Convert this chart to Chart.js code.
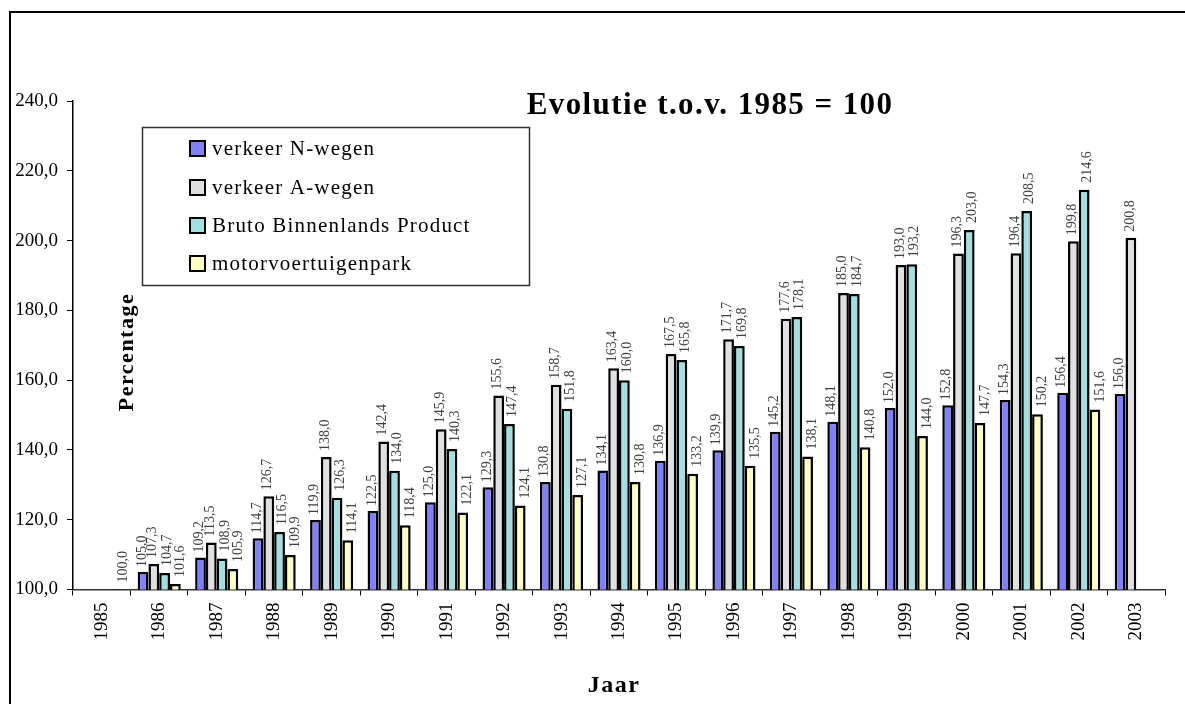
<!DOCTYPE html>
<html>
<head>
<meta charset="utf-8">
<script src="https://cdn.jsdelivr.net/npm/chart.js@4/dist/chart.umd.min.js"></script>
<style>
  body { margin: 0; background: #fff; }
  #wrap { width: 1185px; height: 704px; }
</style>
</head>
<body>
<div id="wrap"><canvas id="evolChart" width="1185" height="704"></canvas></div>
<script>
// categories (jaar)
const jaren = ['1985', '1986', '1987', '1988', '1989', '1990', '1991', '1992', '1993', '1994',
               '1995', '1996', '1997', '1998', '1999', '2000', '2001', '2002', '2003'];

// series values, index 1985 = 100
const verkeerN = [null, 105.0, 109.2, 114.7, 119.9, 122.5, 125.0, 129.3, 130.8, 134.1,
                  136.9, 139.9, 145.2, 148.1, 152.0, 152.8, 154.3, 156.4, 156.0];
const verkeerA = [null, 107.3, 113.5, 126.7, 138.0, 142.4, 145.9, 155.6, 158.7, 163.4,
                  167.5, 171.7, 177.6, 185.0, 193.0, 196.3, 196.4, 199.8, 200.8];
const bbp      = [null, 104.7, 108.9, 116.5, 126.3, 134.0, 140.3, 147.4, 151.8, 160.0,
                  165.8, 169.8, 178.1, 184.7, 193.2, 203.0, 208.5, 214.6, null];
const motorPark = [100.0, 101.6, 105.9, 109.9, 114.1, 118.4, 122.1, 124.1, 127.1, 130.8,
                   133.2, 135.5, 138.1, 140.8, 144.0, 147.7, 150.2, 151.6, null];

const seriesNames = ['verkeer N-wegen', 'verkeer A-wegen', 'Bruto Binnenlands Product', 'motorvoertuigenpark'];

// y axis: 100,0 .. 240,0 step 20
const yMin = 100, yMax = 240, yStep = 20;

const colors = ['#8080ff', '#e0e0e0', '#a0e0e0', '#ffffc0'];
const serif = '"Liberation Serif", "Times New Roman", serif';

function fmt(v) {
    return v.toFixed(1).replace('.', ',');
}

// frame, titles, legend and value labels
const decorPlugin = {
    id: 'decor',
    beforeDraw(chart) {
        const ctx = chart.ctx;
        ctx.save();
        ctx.fillStyle = '#fff';
        ctx.fillRect(0, 0, chart.width, chart.height);
        ctx.strokeStyle = '#000';
        ctx.lineWidth = 2;
        ctx.beginPath();
        ctx.moveTo(10, 710);
        ctx.lineTo(10, 12);
        ctx.lineTo(1190, 12);
        ctx.stroke();
        ctx.restore();
    },
    afterDatasetsDraw(chart) {
        const ctx = chart.ctx;
        const xShift = [-1, -1, 3, 5];
        const gap = [5, 6, 7, 7];
        ctx.save();
        ctx.font = '14px ' + serif;
        ctx.fillStyle = '#404040';
        ctx.textAlign = 'left';
        ctx.textBaseline = 'middle';
        chart.data.datasets.forEach((ds, di) => {
            const meta = chart.getDatasetMeta(di);
            meta.data.forEach((bar, i) => {
                const v = ds.data[i];
                if (v === null || v === undefined) return;
                ctx.save();
                ctx.translate(bar.x + xShift[di], bar.y - gap[di]);
                ctx.rotate(-Math.PI / 2);
                ctx.fillText(fmt(v), 0, 0);
                ctx.restore();
            });
        });
        ctx.restore();
    },
    afterDraw(chart) {
        const ctx = chart.ctx;
        ctx.save();

        // title
        ctx.fillStyle = '#000';
        ctx.font = 'bold 31px ' + serif;
        ctx.letterSpacing = '1.4px';
        ctx.textAlign = 'center';
        ctx.textBaseline = 'alphabetic';
        ctx.fillText('Evolutie t.o.v. 1985 = 100', 710, 114);

        // axis titles
        ctx.font = 'bold 22px ' + serif;
        ctx.letterSpacing = '1.5px';
        ctx.textBaseline = 'middle';
        ctx.save();
        ctx.translate(127, 352);
        ctx.rotate(-Math.PI / 2);
        ctx.fillText('Percentage', 0, 0);
        ctx.restore();
        ctx.font = 'bold 24px ' + serif;
        ctx.fillText('Jaar', 614, 686);

        // legend
        ctx.letterSpacing = '0px';
        ctx.fillStyle = '#fff';
        ctx.fillRect(142, 127, 387, 158);
        ctx.strokeStyle = '#333';
        ctx.lineWidth = 1.5;
        ctx.strokeRect(142.5, 127.5, 387, 158);
        const rows = [148, 187, 225, 263];
        ctx.font = '21px ' + serif;
        ctx.letterSpacing = '1.2px';
        ctx.textAlign = 'left';
        ctx.textBaseline = 'middle';
        seriesNames.forEach((name, i) => {
            ctx.fillStyle = colors[i];
            ctx.fillRect(190, rows[i] - 7, 15, 15);
            ctx.strokeStyle = '#000';
            ctx.lineWidth = 2;
            ctx.strokeRect(190, rows[i] - 7, 15, 15);
            ctx.fillStyle = '#000';
            ctx.fillText(name, 212, rows[i] + 1);
        });
        ctx.restore();
    }
};

const datasets = [verkeerN, verkeerA, bbp, motorPark].map((vals, i) => ({
    label: seriesNames[i],
    data: vals,
    backgroundColor: colors[i],
    borderColor: '#000',
    borderWidth: 2.5,
    borderSkipped: false
}));

const ctx = document.getElementById('evolChart').getContext('2d');

const evolChart = new Chart(ctx, {
    type: 'bar',
    data: {
        labels: jaren,
        datasets: datasets
    },
    options: {
        responsive: false,
        animation: false,
        devicePixelRatio: 1,
        layout: {
            padding: { top: 101, right: 20, left: 0, bottom: 0 }
        },
        datasets: {
            bar: { categoryPercentage: 0.75, barPercentage: 1 }
        },
        plugins: {
            legend: { display: false },
            tooltip: { enabled: false },
            title: { display: false }
        },
        scales: {
            x: {
                offset: true,
                grid: {
                    display: true,
                    drawOnChartArea: false,
                    drawTicks: true,
                    tickLength: 6,
                    color: '#000',
                    offset: true
                },
                border: { display: true, color: '#333', width: 1.5 },
                ticks: {
                    font: { family: serif, size: 19 },
                    color: '#000',
                    minRotation: 90,
                    maxRotation: 90,
                    autoSkip: false,
                    padding: 7
                },
                afterFit: (s) => { s.height = 114.5; }
            },
            y: {
                min: yMin,
                max: yMax,
                grid: {
                    display: true,
                    drawOnChartArea: false,
                    drawTicks: true,
                    tickLength: 6,
                    color: '#000'
                },
                border: { display: true, color: '#000', width: 1.5 },
                ticks: {
                    stepSize: yStep,
                    font: { family: serif, size: 19 },
                    color: '#000',
                    padding: 9,
                    callback: (v) => fmt(v)
                },
                afterFit: (s) => { s.width = 73; }
            }
        }
    },
    plugins: [decorPlugin]
});
</script>
</body>
</html>
